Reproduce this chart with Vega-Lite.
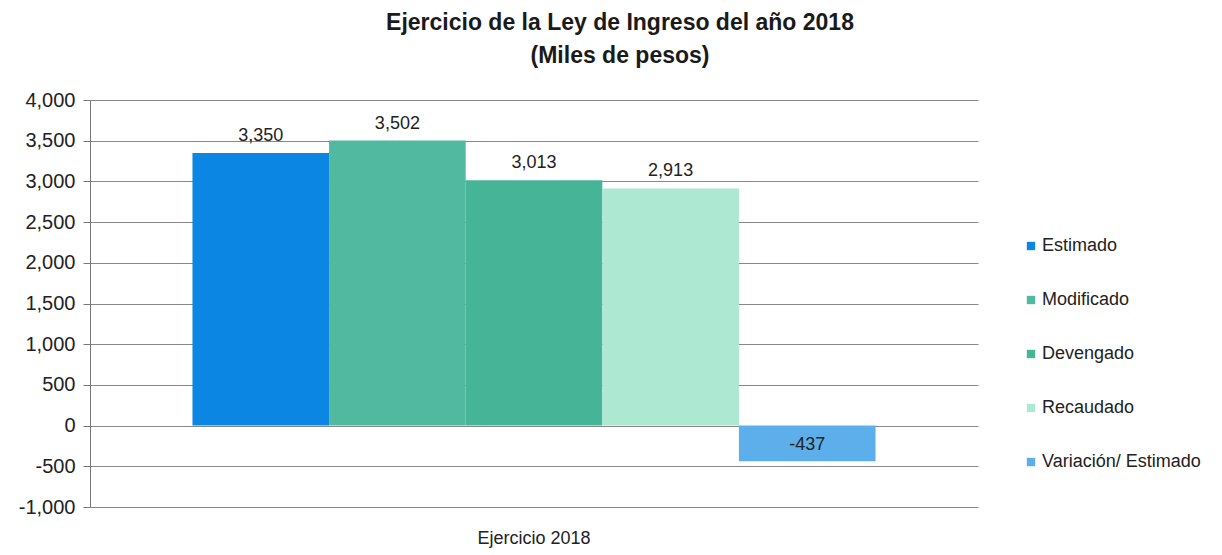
{
  "$schema": "https://vega.github.io/schema/vega-lite/v6.json",
  "autosize": {"type": "none"},
  "width": 888,
  "height": 407,
  "padding": {"left": 90, "top": 100, "right": 244, "bottom": 48},
  "background": "white",
  "config": {
    "font": "Liberation Sans, Arial",
    "view": {"stroke": null},
    "locale": {
      "number": {"decimal": ".", "thousands": ",", "grouping": [3], "currency": ["$", ""], "minus": "-"}
    }
  },
  "title": {
    "text": ["Ejercicio de la Ley de Ingreso del año 2018", "(Miles de pesos)"],
    "fontSize": 23,
    "fontWeight": "bold",
    "color": "#1a1a1a",
    "lineHeight": 33,
    "offset": 22,
    "dx": 86,
    "anchor": "middle"
  },
  "data": {
    "values": [
      {"ejercicio": "Ejercicio 2018", "serie": "Estimado", "valor": 3350},
      {"ejercicio": "Ejercicio 2018", "serie": "Modificado", "valor": 3502},
      {"ejercicio": "Ejercicio 2018", "serie": "Devengado", "valor": 3013},
      {"ejercicio": "Ejercicio 2018", "serie": "Recaudado", "valor": 2913},
      {"ejercicio": "Ejercicio 2018", "serie": "Variación/ Estimado", "valor": -437}
    ]
  },
  "encoding": {
    "x": {
      "field": "ejercicio",
      "type": "nominal",
      "scale": {"paddingInner": 0, "paddingOuter": 0.15},
      "axis": {
        "title": null,
        "labelAngle": 0,
        "domain": false,
        "ticks": false,
        "labelPadding": 22,
        "labelFontSize": 18,
        "labelColor": "#222"
      }
    },
    "xOffset": {
      "field": "serie",
      "type": "nominal",
      "scale": {
        "domain": ["Estimado", "Modificado", "Devengado", "Recaudado", "Variación/ Estimado"],
        "paddingInner": 0,
        "paddingOuter": 0
      }
    },
    "y": {
      "field": "valor",
      "type": "quantitative",
      "scale": {"domain": [-1000, 4000], "nice": false},
      "axis": {
        "title": null,
        "values": [-1000, -500, 0, 500, 1000, 1500, 2000, 2500, 3000, 3500, 4000],
        "format": ",d",
        "labelFontSize": 20,
        "labelColor": "#222",
        "labelPadding": 8,
        "tickSize": 7,
        "tickColor": "#777",
        "domainColor": "#777",
        "gridColor": "#888",
        "gridOpacity": 1
      }
    }
  },
  "layer": [
    {
      "mark": {"type": "bar"},
      "encoding": {
        "color": {
          "field": "serie",
          "type": "nominal",
          "scale": {
            "domain": ["Estimado", "Modificado", "Devengado", "Recaudado", "Variación/ Estimado"],
            "range": ["#0b86e3", "#52b9a1", "#46b497", "#ace8d2", "#5cafea"]
          },
          "legend": {
            "title": null,
            "orient": "none",
            "legendX": 932,
            "legendY": 137,
            "symbolType": "square",
            "symbolSize": 70,
            "symbolStrokeWidth": 0,
            "labelFontSize": 18,
            "labelColor": "#222",
            "labelOffset": 2,
            "labelLimit": 300,
            "rowPadding": 36
          }
        }
      }
    },
    {
      "transform": [{"filter": "datum.valor >= 0"}],
      "mark": {"type": "text", "baseline": "bottom", "dy": -8, "fontSize": 18, "color": "#222"},
      "encoding": {"text": {"field": "valor", "type": "quantitative", "format": ",d"}}
    },
    {
      "transform": [{"filter": "datum.valor < 0"}],
      "mark": {"type": "text", "baseline": "middle", "dy": -16, "fontSize": 18, "color": "#222"},
      "encoding": {"text": {"field": "valor", "type": "quantitative", "format": ",d"}}
    }
  ]
}
